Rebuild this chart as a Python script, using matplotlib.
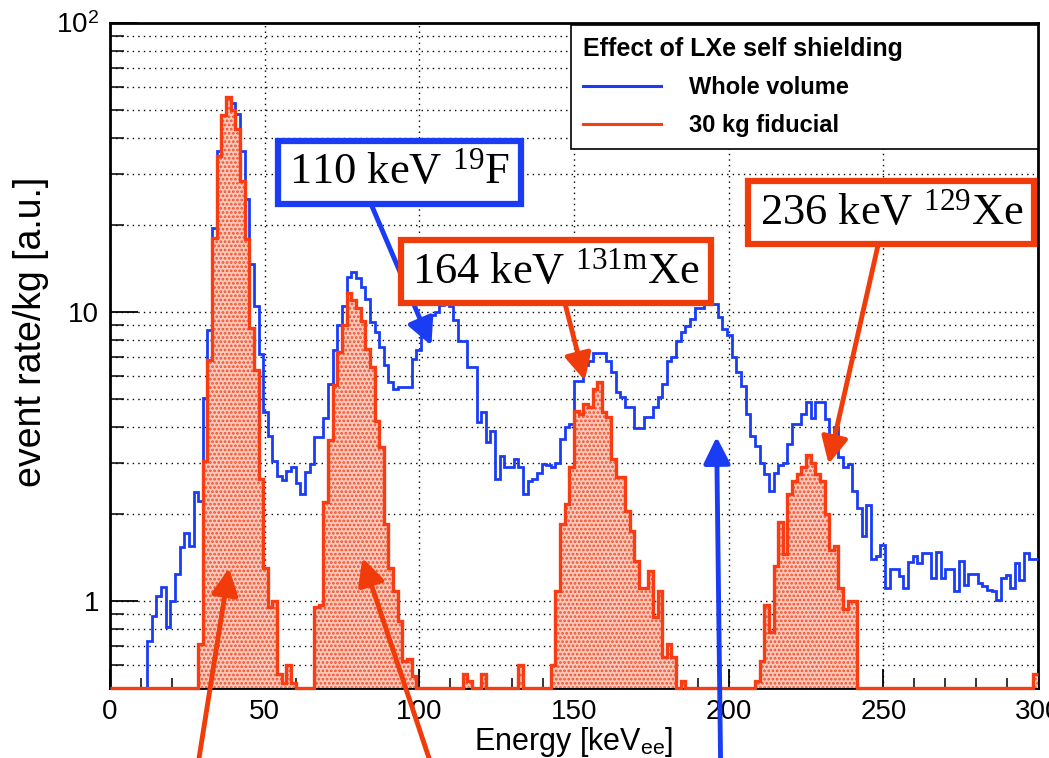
import numpy as np
import matplotlib
matplotlib.use("Agg")
from matplotlib import pyplot as plt
from matplotlib.lines import Line2D
from matplotlib.ticker import FixedLocator, FuncFormatter, MultipleLocator, NullFormatter

plt.rcParams['font.family'] = ['Liberation Sans', 'DejaVu Sans']
plt.rcParams['mathtext.fontset'] = 'custom'
plt.rcParams['mathtext.rm'] = 'Liberation Serif'
plt.rcParams['mathtext.sf'] = 'Liberation Sans'
plt.rcParams['mathtext.it'] = 'Liberation Serif:italic'
plt.rcParams['hatch.linewidth'] = 1.3

# histogram binning (keV)
bin_width = 1.5
e_max = 300

# event rate/kg per bin (0 = empty bin)
whole_volume = [
    0, 0, 0, 0, 0, 0, 0, 0, 0.73, 0.89,
    1.04, 1.12, 0.81, 1.0, 1.24, 1.54, 1.72, 1.55, 2.39, 2.22,
    5.04, 8.63, 19.5, 36, 48, 53, 53, 48.6, 36, 24.6,
    14.6, 10.5, 7.16, 4.5, 3.73, 3.06, 2.71, 2.62, 2.82, 2.9,
    2.57, 2.34, 2.79, 2.99, 3.7, 3.7, 4.3, 5.64, 7.36, 9.05,
    10.5, 13.2, 13.7, 13.1, 12.2, 11.1, 9.22, 8.51, 7.55, 6.53,
    5.71, 5.42, 5.5, 5.5, 5.5, 6.88, 7.36, 8.63, 9.47, 9.8,
    10.0, 10.6, 10.7, 10.5, 9.35, 7.96, 7.96, 6.44, 6.44, 4.15,
    4.5, 3.54, 3.88, 2.64, 3.18, 2.9, 2.9, 3.1, 2.9, 2.34,
    2.6, 2.65, 2.78, 2.98, 2.95, 2.9, 3.0, 3.63, 4.0, 4.1,
    5.79, 5.79, 6.53, 6.79, 7.2, 7.2, 7.2, 6.79, 6.19, 5.27,
    5.07, 4.68, 4.68, 3.98, 3.98, 4.32, 4.32, 4.68, 5.07, 5.64,
    6.79, 7.01, 7.93, 8.51, 8.98, 9.47, 10.3, 10.3, 10.7, 10.7,
    10.7, 9.6, 8.74, 8.3, 6.97, 6.19, 5.56, 4.44, 3.73, 3.45,
    3.0, 2.75, 2.4, 2.78, 2.95, 3.0, 3.49, 4.1, 4.1, 4.44,
    4.87, 4.3, 4.87, 4.87, 4.26, 3.73, 4.0, 3.14, 2.9, 2.97,
    2.4, 2.1, 1.68, 2.15, 1.4, 1.43, 1.56, 1.11, 1.29, 1.29,
    1.22, 1.11, 1.36, 1.43, 1.35, 1.47, 1.47, 1.2, 1.48, 1.2,
    1.29, 1.29, 1.08, 1.38, 1.14, 1.24, 1.24, 1.15, 1.13, 1.09,
    1.08, 1.01, 1.2, 1.23, 1.11, 1.35, 1.18, 1.47, 1.4, 1.4,
]
fiducial_30kg = [
    0, 0, 0, 0, 0, 0, 0, 0, 0, 0,
    0, 0, 0, 0, 0, 0, 0, 0, 0, 0.71,
    3.06, 6.83, 18, 34.6, 48, 55.6, 50, 43, 28.5, 17.9,
    8.8, 6.3, 2.65, 1.3, 0.95, 1.0, 0.56, 0.52, 0.6, 0.52,
    0, 0, 0, 0, 0.95, 0.97, 2.2, 3.6, 5.6, 7.3,
    9.0, 11.6, 11.0, 10.3, 9.3, 7.45, 6.44, 4.21, 3.4, 1.84,
    1.3, 1.08, 0.85, 0.62, 0.63, 0.55, 0, 0, 0, 0,
    0, 0, 0, 0, 0, 0, 0.56, 0.53, 0, 0,
    0.56, 0, 0, 0, 0, 0, 0, 0, 0.6, 0,
    0, 0, 0, 0, 0, 0.6, 1.08, 1.84, 2.16, 2.9,
    4.56, 4.44, 4.81, 4.68, 5.42, 5.71, 4.5, 4.32, 3.1, 2.68,
    2.68, 2.05, 1.75, 1.38, 1.11, 1.11, 1.27, 0.88, 1.08, 0.64,
    0.71, 0.64, 0, 0.53, 0, 0, 0, 0, 0, 0,
    0, 0, 0, 0, 0, 0, 0, 0, 0, 0.53,
    0.62, 0.97, 0.78, 1.32, 1.87, 1.45, 2.34, 2.6, 2.75, 2.9,
    3.2, 3.0, 2.75, 2.6, 2.0, 1.5, 1.55, 1.11, 0.94, 1.0,
    1.0, 0, 0, 0, 0, 0, 0, 0, 0, 0,
    0, 0, 0, 0, 0, 0, 0, 0, 0, 0,
    0, 0, 0, 0, 0, 0, 0, 0, 0, 0,
    0, 0, 0, 0, 0, 0, 0, 0, 0, 0.56,
]

series_labels = ["Whole volume", "30 kg fiducial"]
legend_title = "Effect of LXe self shielding"
x_ticks = [0, 50, 100, 150, 200, 250, 300]
y_ticks = [1, 10, 100]

# line annotations: text, box centre, colour
line_labels = [r"110 keV $^{\mathrm{19}}$F", r"164 keV $^{\mathrm{131m}}$Xe",
               r"236 keV $^{\mathrm{129}}$Xe"]
label_pos = [(93.5, 30.4), (144.2, 13.8), (252.6, 22.1)]
label_col = ["#1a3cf5", "#f03c0a", "#f03c0a"]
# arrows: (head, tail, colour)
arrows = [
    ((103.9, 7.65), (83.9, 24.3), "#1a3cf5"),
    ((153.5, 5.79), (146.8, 11.0), "#f03c0a"),
    ((232.3, 2.98), (249.0, 18.4), "#f03c0a"),
    ((38.5, 1.30), (28.4, 0.27), "#f03c0a"),
    ((81.6, 1.41), (103.9, 0.27), "#f03c0a"),
    ((196.1, 3.70), (197.4, 0.27), "#1a3cf5"),
]

BLUE = "#1a3cf5"
RED = "#f83c14"
y_floor = 0.5

edges = np.arange(0, e_max + bin_width / 2, bin_width)
blue = np.clip(np.array(whole_volume, dtype=float), y_floor, None)
red = np.clip(np.array(fiducial_30kg, dtype=float), y_floor, None)

fig = plt.figure(figsize=(10.49, 7.58), dpi=100)
ax = fig.add_axes([0.1049, 0.0923, 0.8846, 0.8774])
ax.set_yscale('log')
ax.set_xlim(0, e_max)
ax.set_ylim(y_floor, 100)

ax.stairs(blue, edges, color=BLUE, lw=2.0, baseline=None, clip_on=False, zorder=3)
ax.stairs(red, edges, fill=True, baseline=y_floor, facecolor="#fbc8bb",
          edgecolor="#f0502a", hatch="....", lw=0, zorder=4)
ax.stairs(red, edges, color=RED, lw=2.4, baseline=None, clip_on=False, zorder=5)

# ROOT-like axes
ax.xaxis.set_major_locator(FixedLocator(x_ticks))
ax.xaxis.set_minor_locator(MultipleLocator(10))
ax.yaxis.set_major_locator(FixedLocator(y_ticks))
ax.yaxis.set_minor_locator(FixedLocator([m * 10.0 ** d for d in (-1, 0, 1) for m in range(2, 10)]))
ax.yaxis.set_minor_formatter(NullFormatter())
ax.yaxis.set_major_formatter(FuncFormatter(
    lambda v, p: "10$^{\\mathsf{2}}$" if v >= 100 else "%d" % v))
ax.tick_params(axis='x', which='major', direction='in', length=14, width=1.3, labelsize=20, pad=8)
ax.tick_params(axis='x', which='minor', direction='in', length=7, width=1.1)
ax.tick_params(axis='y', which='major', direction='in', length=20, width=1.3, labelsize=20, pad=8)
ax.tick_params(axis='y', which='minor', direction='in', length=10, width=1.1)
ax.grid(True, which='major', axis='x', color='black', lw=1, ls=(0, (1, 3)))
ax.grid(True, which='both', axis='y', color='black', lw=1, ls=(0, (1, 3)))
ax.set_axisbelow(True)
for s in ax.spines.values():
    s.set_linewidth(2)

ax.set_xlabel(r"Energy [keV$_{\mathsf{ee}}$]", fontsize=22, labelpad=0)
ax.set_ylabel("event rate/kg [a.u.]", fontsize=27)
ax.yaxis.set_label_coords(-0.066, 0.535)

handles = [Line2D([], [], color=BLUE, lw=2.2), Line2D([], [], color=RED, lw=2.2)]
leg = ax.legend(handles, series_labels, title=legend_title, loc='upper left',
                bbox_to_anchor=(0.497, 0.0, 0.503, 0.997), mode='expand',
                frameon=True, fancybox=False, edgecolor='black', framealpha=1,
                prop=dict(weight='bold', size=17),
                title_fontproperties=dict(weight='bold', size=18),
                alignment='left', handlelength=3.3, handletextpad=1.2,
                labelspacing=0.65, borderpad=0.5, borderaxespad=0)
leg.get_frame().set_linewidth(1.2)
leg.set_zorder(9)

for head, tail, col in arrows:
    ax.annotate("", xy=head, xytext=tail, annotation_clip=False, zorder=7,
                arrowprops=dict(arrowstyle='-|>', color=col, lw=3.5,
                                mutation_scale=40, shrinkA=0, shrinkB=0))

for txt, (x, y), col in zip(line_labels, label_pos, label_col):
    ax.text(x, y, txt, fontsize=32, family='Liberation Serif', ha='center', va='center',
            zorder=8, bbox=dict(boxstyle='square,pad=0.25', fc='white', ec=col, lw=4.5))

fig.savefig("out.png", dpi=100, facecolor='white')
